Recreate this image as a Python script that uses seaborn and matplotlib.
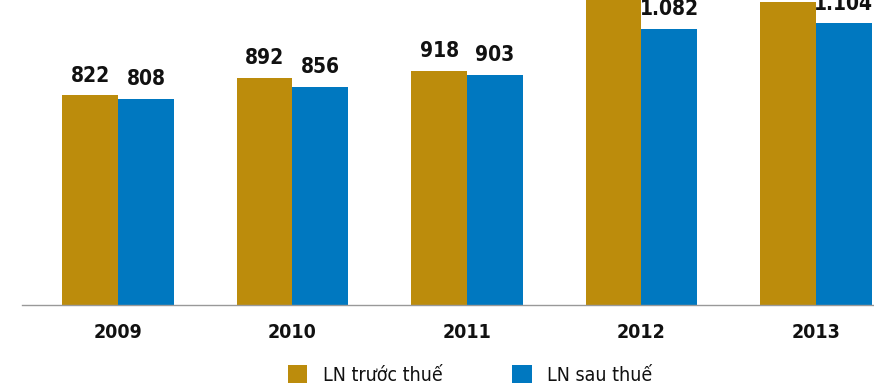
import numpy as np
import matplotlib
matplotlib.use("Agg")
import matplotlib.pyplot as plt
from matplotlib.patches import Patch
import seaborn as sns
import pandas as pd

years = ["2009", "2010", "2011", "2012", "2013"]
series = ["LN trước thuế", "LN sau thuế"]
truoc_thue = [822, 892, 918, 1250, 1188]
sau_thue = [808, 856, 903, 1082, 1104]
colors = ["#BC8C0C", "#0078C0"]

df = pd.DataFrame({
    "year": years * 2,
    "series": [series[0]] * len(years) + [series[1]] * len(years),
    "value": truoc_thue + sau_thue,
})

sns.set_style("white")
plt.rcParams["font.family"] = ["DejaVu Sans"]
plt.rcParams["font.stretch"] = "condensed"

fig = plt.figure(figsize=(8.74, 3.89), dpi=100)
ax = fig.add_axes([22 / 874, 84 / 389, 1 - 22 / 874, 305 / 389])

sns.barplot(data=df, x="year", y="value", hue="series", hue_order=series,
            palette=colors, width=0.64, saturation=1, linewidth=0,
            legend=False, ax=ax)

def fmt(v):
    return f"{int(v):,}".replace(",", ".")

for cont in ax.containers:
    ax.bar_label(cont, labels=[fmt(b.get_height()) for b in cont], padding=7,
                 fontsize=15, fontweight="bold", fontstretch="condensed",
                 color="#111111", clip_on=False)

ax.set_ylim(0, 1196)
ax.set_xlim(-0.55, (874 - 118) / 174.5)
ax.set_xlabel("")
ax.set_ylabel("")
ax.set_yticks([])
ax.set_xticks(range(len(years)))
ax.set_xticklabels(years, fontsize=14, fontweight="bold", fontstretch="condensed",
                   color="#111111")
ax.set_xticks(np.arange(len(years)) - 0.5, minor=True)
ax.tick_params(axis="x", which="major", length=0, pad=13)
ax.tick_params(axis="x", which="minor", length=5, width=1, color="#999999", direction="out")
for s in ["top", "left", "right"]:
    ax.spines[s].set_visible(False)
ax.spines["bottom"].set_color("#999999")
ax.spines["bottom"].set_linewidth(1)

handles = [Patch(facecolor=c, edgecolor="none") for c in colors]
leg = fig.legend(handles, series, loc="center", bbox_to_anchor=(0.538, 0.036), ncol=2,
                 frameon=False, fontsize=14, handlelength=1.0, handleheight=1.0,
                 handletextpad=0.8, columnspacing=3.6, labelcolor="#111111")
for t in leg.get_texts():
    t.set_fontstretch("condensed")

fig.savefig("out.png", dpi=100)
